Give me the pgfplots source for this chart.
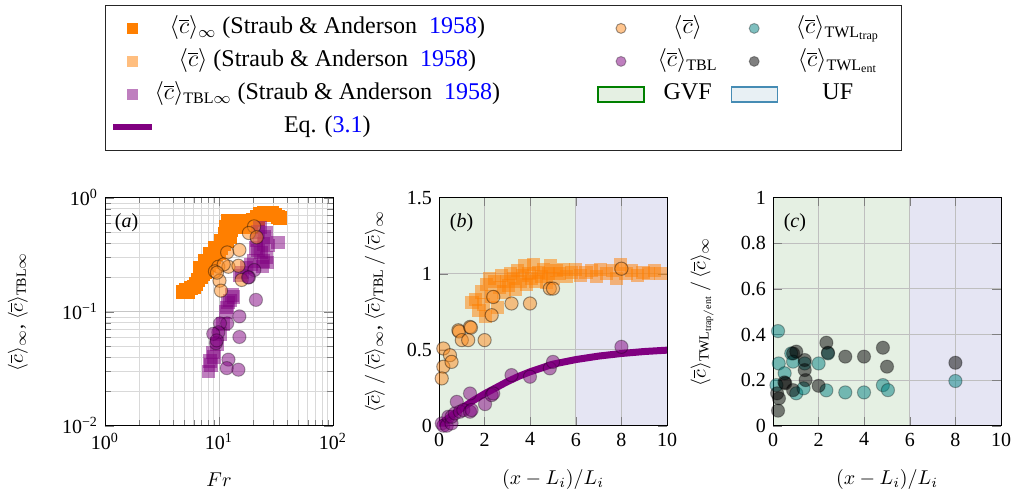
\documentclass[border=0pt]{standalone}
\usepackage{fontspec}
\setmainfont{Liberation Serif}
\usepackage{pgfplots}
\pgfplotsset{compat=1.18}
\definecolor{corange}{RGB}{255,127,0}
\definecolor{cpurple}{RGB}{128,0,128}
\definecolor{cteal}{RGB}{0,128,128}
\definecolor{gvf}{RGB}{229,240,227}
\definecolor{uf}{RGB}{229,229,243}
\definecolor{gvfedge}{RGB}{0,128,0}
\definecolor{ufedge}{RGB}{70,140,180}
\definecolor{uflegend}{RGB}{232,240,244}
\newcommand{\lf}{\fontsize{12}{14}\selectfont}
\pgfplotsset{
 markimg/.style={legend image code/.code={\path[draw=none,fill=none] (0pt,0pt) -- (23pt,0pt); \draw[##1] plot coordinates {(11.5pt,0pt)};}},
 lineimg/.style={legend image code/.code={\path[draw=none,fill=none] (0pt,0pt) -- (23pt,0pt); \draw[##1] (2pt,0pt) -- (21.5pt,0pt);}},
 areaimg/.style={legend image code/.code={\draw[##1] (0pt,-3.75pt) rectangle (23pt,3.75pt);}},
 sqA/.style={only marks, mark=square*, mark size=3.5pt, color=corange, mark options={fill=corange, draw=corange, draw opacity=0}},
 sqB/.style={only marks, mark=square*, mark size=3.3pt, color=corange, mark options={fill=corange, fill opacity=0.5, draw opacity=0}},
 sqP/.style={only marks, mark=square*, mark size=3.4pt, color=cpurple, mark options={fill=cpurple, fill opacity=0.5, draw opacity=0}},
 ciO/.style={only marks, mark=*, mark size=3.3pt, mark options={fill={rgb,255:red,255;green,140;blue,30}, fill opacity=0.5, draw=black, draw opacity=0.4, line width=0.5pt}},
 ciP/.style={only marks, mark=*, mark size=3.3pt, mark options={fill=cpurple, fill opacity=0.5, draw=black, draw opacity=0.3, line width=0.5pt}},
 ciT/.style={only marks, mark=*, mark size=3.3pt, mark options={fill=cteal, fill opacity=0.5, draw=black, draw opacity=0.3, line width=0.5pt}},
 ciG/.style={only marks, mark=*, mark size=3.3pt, mark options={fill=black, fill opacity=0.5, draw=black, draw opacity=0.3, line width=0.5pt}},
 panel/.style={scale only axis, width=114pt, height=114pt, anchor=south west,
   tick label style={font=\normalsize}, label style={font=\normalsize},
   xlabel style={at={(axis description cs:0.5,-0.235)}, anchor=center}},
}
\begin{document}
\begin{tikzpicture}
% ---------------- (a) ----------------
\begin{axis}[panel, at={(0pt,0pt)},
  xmode=log, ymode=log, xmin=1, xmax=100, ymin=0.01, ymax=1,
  xtick={1,10,100}, xticklabels={10\textsuperscript{0},10\textsuperscript{1},10\textsuperscript{2}},
  ytick={0.01,0.1,1}, yticklabels={10\textsuperscript{−2},10\textsuperscript{−1},10\textsuperscript{0}},
  grid=both, major grid style={gray!45}, minor grid style={gray!30},
  xlabel={$Fr$},
  ylabel={$\langle\overline{c}\rangle_\infty$, $\langle\overline{c}\rangle_{\mathrm{TBL}\infty}$},
  ylabel style={at={(axis description cs:-0.382,0.5)}, anchor=center},
  legend columns=3, legend cell align=left,
  legend style={at={(0,1)}, anchor=north west, yshift=96.35pt, draw=black!85,
    column sep=0pt, row sep=4pt, inner xsep=2pt, inner ysep=5.25pt,
    nodes={inner sep=0pt, text height=9pt, text depth=3.5pt}},
]
\addplot[sqA, forget plot] coordinates {
(4.8,0.150)(5.1,0.155)(5.4,0.150)(5.7,0.160)(6.0,0.165)(6.3,0.175)(6.6,0.190)(6.8,0.240)(6.9,0.200)
(7.2,0.215)(7.5,0.225)(7.6,0.280)(7.8,0.240)(8.2,0.255)(8.4,0.320)(8.6,0.275)(9.0,0.300)(9.2,0.360)
(9.5,0.320)(10.0,0.330)(10.5,0.360)(10.5,0.420)(11.0,0.390)(11.2,0.480)(11.5,0.550)(11.8,0.420)
(12.0,0.620)(12.5,0.450)(12.8,0.520)(13.0,0.600)(14.0,0.620)
(15.5,0.630)(16.0,0.550)(17.0,0.600)(18.5,0.620)(19.0,0.550)(20.0,0.640)(21.5,0.680)
(22.0,0.650)(23.0,0.720)(24.0,0.710)(25.0,0.740)(27.0,0.720)(29.0,0.740)(31.0,0.700)
(33.0,0.680)(34.5,0.660)};
\addplot[sqP, forget plot] coordinates {
(8.06,0.030)(8.5,0.034)(8.34,0.037)(9.0,0.040)(8.9,0.044)(9.55,0.052)(10.2,0.064)(10.9,0.078)
(11.5,0.100)(11.7,0.109)(12.0,0.120)(12.5,0.125)(13.4,0.134)(13.0,0.140)(15.3,0.207)(16.0,0.220)
(17.5,0.245)(20.0,0.280)(19.0,0.260)(22.1,0.343)(21.0,0.360)(24.5,0.392)(23.5,0.330)(26.2,0.496)
(26.2,0.300)(21.4,0.420)(22.9,0.550)(24.5,0.280)(24.0,0.250)(26.5,0.270)(27.0,0.380)(25.0,0.450)
(22.0,0.500)(33.1,0.405)};
\addplot[ciO, forget plot] coordinates {
(20.3,0.56)(18.3,0.49)(21.4,0.45)(15.1,0.348)(11.8,0.331)(9.87,0.248)(12.1,0.248)(9.22,0.226)
(14.8,0.253)(10.1,0.187)(10.4,0.153)(15.8,0.19)(11.0,0.26)(9.6,0.22)};
\addplot[ciP, forget plot] coordinates {
(20.4,0.232)(18.3,0.2)(18.0,0.2)(21.1,0.127)(15.1,0.091)(11.8,0.079)(10.2,0.079)(9.87,0.066)
(9.4,0.053)(15.1,0.060)(12.1,0.038)(11.7,0.032)(14.8,0.031)(8.9,0.064)(9.55,0.056)};
\node at (rel axis cs:0.095,0.89) {(\textit{a})};
% legend
\addlegendimage{sqA, mark size=2.75pt, markimg}
\addlegendentry{\lf\makebox[221pt][l]{\makebox[172pt][c]{$\langle\overline{c}\rangle_\infty$ (Straub \& Anderson\ \ \textcolor{blue}{1958})}}}
\addlegendimage{ciO, mark size=2.5pt, markimg}
\addlegendentry{\lf\makebox[43pt][c]{$\langle\overline{c}\rangle$}}
\addlegendimage{ciT, mark size=2.5pt, markimg}
\addlegendentry{\lf\makebox[60pt][c]{$\langle\overline{c}\rangle_{\mathrm{TWL}_{\mathrm{trap}}}$}}
\addlegendimage{sqB, mark size=2.75pt, markimg}
\addlegendentry{\lf\makebox[221pt][l]{\makebox[172pt][c]{$\langle\overline{c}\rangle$ (Straub \& Anderson\ \ \textcolor{blue}{1958})}}}
\addlegendimage{ciP, mark size=2.5pt, markimg}
\addlegendentry{\lf\makebox[43pt][c]{$\langle\overline{c}\rangle_{\mathrm{TBL}}$}}
\addlegendimage{ciG, mark size=2.5pt, markimg}
\addlegendentry{\lf\makebox[60pt][c]{$\langle\overline{c}\rangle_{\mathrm{TWL}_{\mathrm{ent}}}$}}
\addlegendimage{sqP, mark size=2.75pt, markimg}
\addlegendentry{\lf\makebox[221pt][l]{\makebox[172pt][c]{$\langle\overline{c}\rangle_{\mathrm{TBL}\infty}$ (Straub \& Anderson\ \ \textcolor{blue}{1958})}}}
\addlegendimage{fill=gvf, draw=gvfedge, line width=0.6pt, areaimg}
\addlegendentry{\lf\makebox[43pt][c]{GVF}}
\addlegendimage{fill=uflegend, draw=ufedge, line width=0.6pt, areaimg}
\addlegendentry{\lf\makebox[60pt][c]{UF}}
\addlegendimage{cpurple, line width=3pt, lineimg}
\addlegendentry{\lf\makebox[221pt][l]{\makebox[172pt][c]{Eq. (\textcolor{blue}{3.1})}}}
\end{axis}
% ---------------- (b) ----------------
\begin{axis}[panel, at={(167pt,0pt)}, set layers,
  xmin=0, xmax=10, ymin=0, ymax=1.5,
  xtick={0,2,...,10}, ytick={0,0.5,1,1.5},
  grid=major, major grid style={gray!50},
  /pgf/number format/assume math mode=true,
  xlabel={$(x-L_i)/L_i$},
  ylabel={$\langle\overline{c}\rangle\,/\,\langle\overline{c}\rangle_\infty$, $\langle\overline{c}\rangle_{\mathrm{TBL}}\,/\,\langle\overline{c}\rangle_\infty$},
  ylabel style={at={(axis description cs:-0.281,0.5)}, anchor=center},
]
\addplot[fill=gvf, draw=none, on layer=axis background] coordinates {(0,1.5)(6,1.5)} \closedcycle;
\addplot[fill=uf, draw=none, on layer=axis background] coordinates {(6,1.5)(10,1.5)} \closedcycle;
\addplot[sqB] coordinates {
(1.45,0.81)(1.6,0.83)(1.75,0.76)(1.85,0.88)(1.95,0.80)(2.05,0.72)(2.1,0.93)(2.2,0.97)
(2.3,0.85)(2.45,0.95)(2.55,0.78)(2.65,0.91)(2.75,0.99)(2.85,0.88)(2.95,0.95)(3.05,0.92)
(3.15,1.00)(3.25,0.97)(3.35,0.90)(3.45,1.02)(3.55,0.95)(3.65,0.99)(3.75,1.05)(3.85,0.93)
(3.95,1.00)(4.05,0.97)(4.15,1.06)(4.25,0.95)(4.35,1.01)(4.5,0.98)(4.6,1.03)(4.7,0.94)
(4.8,1.00)(4.9,1.05)(5.0,0.97)(5.15,1.02)(5.3,1.00)(5.45,1.03)(5.6,0.98)(5.8,1.01)
(6.0,1.03)(6.2,0.99)(6.45,1.01)(6.7,1.02)(6.9,0.98)(7.1,1.03)(7.35,1.00)(7.6,1.02)
(7.8,0.97)(7.95,1.06)(8.2,1.00)(8.45,1.02)(8.7,0.99)(8.95,1.01)(9.2,1.00)(9.45,1.02)(9.7,1.00)};
\addplot[cpurple, line width=3.5pt] coordinates {
(0,0)(0.5,0.06)(1,0.115)(1.5,0.165)(2,0.21)(2.5,0.25)(3,0.29)(3.5,0.325)(4,0.355)
(4.5,0.38)(5,0.405)(5.5,0.42)(6,0.435)(7,0.458)(8,0.475)(9,0.488)(10,0.497)};
\addplot[ciO] coordinates {
(0.19,0.508)(0.19,0.388)(0.12,0.311)(0.48,0.464)(0.55,0.42)(0.85,0.628)(0.88,0.62)(1.0,0.563)
(1.36,0.650)(1.40,0.645)(1.28,0.563)(2.0,0.563)(2.38,0.847)(2.31,0.727)(3.18,0.804)(3.99,0.804)
(4.86,0.902)(5.0,0.902)(8.0,1.033)};
\addplot[ciP] coordinates {
(0.12,0.015)(0.19,0.0)(0.34,0.0)(0.41,0.059)(0.55,0.015)(0.55,0.059)(0.70,0.081)(0.78,0.157)
(0.92,0.092)(1.07,0.103)(1.36,0.212)(1.36,0.092)(1.43,0.103)(2.02,0.142)(2.31,0.201)(2.38,0.212)
(3.18,0.333)(3.99,0.322)(4.86,0.377)(5.0,0.42)(8.0,0.519)};
\node at (rel axis cs:0.099,0.89) {(\textit{b})};
\end{axis}
% ---------------- (c) ----------------
\begin{axis}[panel, at={(334pt,0pt)}, set layers,
  xmin=0, xmax=10, ymin=0, ymax=1,
  xtick={0,2,...,10}, ytick={0,0.2,...,1},
  grid=major, major grid style={gray!50},
  /pgf/number format/assume math mode=true,
  xlabel={$(x-L_i)/L_i$},
  ylabel={$\langle\overline{c}\rangle_{\mathrm{TWL}_{\mathrm{trap/ent}}}\,/\,\langle\overline{c}\rangle_\infty$},
  ylabel style={at={(axis description cs:-0.311,0.5)}, anchor=center},
]
\addplot[fill=gvf, draw=none, on layer=axis background] coordinates {(0,1)(6,1)} \closedcycle;
\addplot[fill=uf, draw=none, on layer=axis background] coordinates {(6,1)(10,1)} \closedcycle;
\addplot[ciT] coordinates {
(0.22,0.415)(0.25,0.273)(0.15,0.178)(0.51,0.230)(0.80,0.317)(0.88,0.281)(1.02,0.142)(1.34,0.164)
(1.39,0.273)(2.0,0.273)(2.34,0.155)(2.41,0.317)(3.17,0.146)(3.99,0.146)(4.82,0.178)(5.04,0.156)(8.0,0.196)};
\addplot[ciG] coordinates {
(0.26,0.12)(0.22,0.066)(0.18,0.142)(0.54,0.186)(0.50,0.19)(0.88,0.317)(1.02,0.325)(0.88,0.156)
(1.39,0.244)(1.43,0.2)(1.39,0.288)(2.0,0.175)(2.34,0.364)(2.41,0.320)(3.17,0.303)(3.99,0.303)
(4.82,0.342)(5.0,0.259)(8.0,0.276)};
\node at (rel axis cs:0.096,0.89) {(\textit{c})};
\end{axis}
\pgfresetboundingbox
\path (-52.5pt,-33.15pt) rectangle (457.5pt,212.85pt);
\end{tikzpicture}
\end{document}
